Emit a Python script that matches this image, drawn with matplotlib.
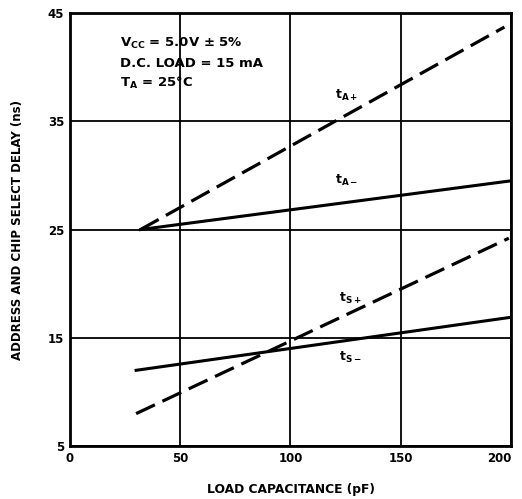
import matplotlib
matplotlib.use("Agg")
import matplotlib.pyplot as plt

plt.rcParams['mathtext.default'] = 'bf'
plt.rcParams['font.family'] = ['DejaVu Sans']

# load capacitance (pF) at start / end of each curve
ta_plus_x = [32, 197]
ta_plus = [25.0, 43.7]
ta_minus_x = [32, 200]
ta_minus = [25.0, 29.5]

ts_plus_x = [30, 199]
ts_plus = [8.0, 24.2]
ts_minus_x = [30, 200]
ts_minus = [12.0, 16.9]

x_ticks = [0, 50, 100, 150, 200]
y_ticks = [5, 15, 25, 35, 45]

fig = plt.figure(figsize=(5.22, 4.99), dpi=100)
ax = fig.add_axes([0.134, 0.106, 0.845, 0.868])

ax.plot(ta_plus_x, ta_plus, color='black', lw=2.3, dashes=(6.5, 2.6))
ax.plot(ta_minus_x, ta_minus, color='black', lw=2.2)
ax.plot(ts_plus_x, ts_plus, color='black', lw=2.3, dashes=(6.5, 2.6))
ax.plot(ts_minus_x, ts_minus, color='black', lw=2.2)

ax.set_xlim(0, 200)
ax.set_ylim(5, 45)
ax.set_xticks(x_ticks)
ax.set_yticks(y_ticks)
ax.grid(True, color='black', lw=1.3)
ax.tick_params(length=0, labelsize=8.5, pad=4)
for lab in ax.get_xticklabels() + ax.get_yticklabels():
    lab.set_fontweight('bold')
# keep the last x label inside the figure
ax.get_xticklabels()[-1].set_horizontalalignment('right')
ax.get_xticklabels()[-1].set_x(200)

ax.set_xlabel('LOAD CAPACITANCE (pF)', fontsize=8.8, fontweight='bold', labelpad=13)
ax.set_ylabel('ADDRESS AND CHIP SELECT DELAY (ns)', fontsize=8.5, fontweight='bold', labelpad=17)
for s in ax.spines.values():
    s.set_linewidth(2)

ax.text(22.5, 42.2, r'V$_{CC}$ = 5.0V ± 5%', fontsize=9.5, fontweight='bold', va='center')
ax.text(22.5, 40.3, 'D.C. LOAD = 15 mA', fontsize=9.5, fontweight='bold', va='center')
ax.text(22.5, 38.5, r'T$_{A}$ = 25°C', fontsize=9.5, fontweight='bold', va='center')

ax.text(120, 37.4, r'$t_{A+}$', fontsize=9, va='center')
ax.text(120, 29.5, r'$t_{A-}$', fontsize=9, va='center')
ax.text(122, 18.6, r'$t_{S+}$', fontsize=9, va='center')
ax.text(122, 13.2, r'$t_{S-}$', fontsize=9, va='center')

fig.savefig('out.png', dpi=100)
